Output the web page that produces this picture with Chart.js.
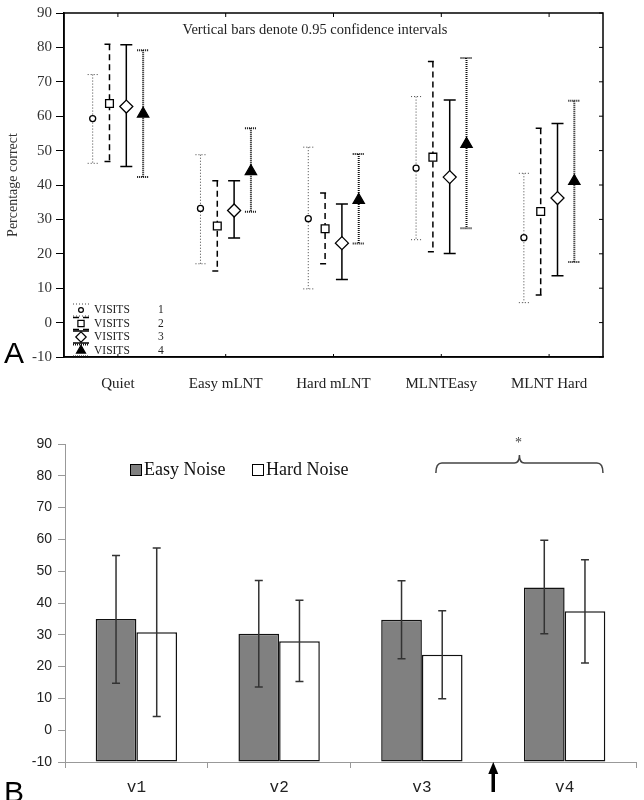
<!DOCTYPE html>
<html>
<head>
<meta charset="utf-8">
<script src="https://cdn.jsdelivr.net/npm/chart.js@4"></script>
<style>
body { margin: 0; background: #fff; }
#wrap { position: relative; width: 644px; height: 800px; overflow: hidden; }
canvas { position: absolute; left: 0; }
.panel { position: absolute; font-family: "Liberation Sans", Arial, sans-serif; font-size: 30px; line-height: 30px; color: #000; }
</style>
</head>
<body>
<div id="wrap">
  <canvas id="chartA" width="644" height="400" style="top:0"></canvas>
  <canvas id="chartB" width="644" height="400" style="top:400px"></canvas>
  <div class="panel" style="left:4px;top:338px">A</div>
  <div class="panel" style="left:4px;top:777px">B</div>
</div>
<script>
// ---- panel A: percentage correct by condition, 4 visits (mean + 95% CI)
const conditions = ["Quiet", "Easy mLNT", "Hard mLNT", "MLNTEasy", "MLNT Hard"];
const visitNames = ["1", "2", "3", "4"];

const visit1Mean = [59.3, 33.2, 30.2, 44.9, 24.7];
const visit1Low  = [46.3, 17.1,  9.8, 24.1,  5.8];
const visit1High = [72.1, 48.8, 51.0, 65.7, 43.4];

const visit2Mean = [63.7, 28.1, 27.3, 48.1, 32.3];
const visit2Low  = [46.8, 15.0, 17.1, 20.6,  8.0];
const visit2High = [80.9, 41.2, 37.7, 75.9, 56.5];

const visit3Mean = [62.8, 32.6, 23.1, 42.3, 36.2];
const visit3Low  = [45.4, 24.6, 12.5, 20.1, 13.6];
const visit3High = [80.8, 41.2, 34.5, 64.7, 57.9];

const visit4Mean = [60.7, 44.0, 35.6, 51.9, 41.1];
const visit4Low  = [42.3, 32.2, 23.0, 27.4, 17.6];
const visit4High = [79.2, 56.5, 49.0, 76.9, 64.5];

// ---- panel B: easy / hard noise by visit (mean + error)
const visits = ["v1", "v2", "v3", "v4"];
const easyNoise     = [35.0, 30.3, 34.7, 44.9];
const easyNoiseLow  = [14.8, 13.6, 22.5, 30.3];
const easyNoiseHigh = [54.9, 47.1, 47.0, 59.7];
const hardNoise     = [30.8, 28.0, 23.7, 37.4];
const hardNoiseLow  = [ 4.3, 15.3,  9.9, 21.1];
const hardNoiseHigh = [57.3, 40.9, 37.6, 53.6];

// styles for the 4 visit series
const visitStyles = [
  { pointStyle: 'circle',   radius: 3,   fill: '#fff', color: '#444', width: 1,   dash: [1, 2], cap: 5 },
  { pointStyle: 'rect',     radius: 5.5, fill: '#fff', color: '#000', width: 1.5, dash: [6, 4], cap: 5 },
  { pointStyle: 'rectRot',  radius: 6.5, fill: '#fff', color: '#000', width: 1.5, dash: [],     cap: 6 },
  { pointStyle: 'triangle', radius: 6.5, fill: '#000', color: '#111', width: 2,   dash: [1, 1], cap: 6 }
];
const visitSpread = 0.156;

const seriesA = [
  [visit1Mean, visit1Low, visit1High],
  [visit2Mean, visit2Low, visit2High],
  [visit3Mean, visit3Low, visit3High],
  [visit4Mean, visit4Low, visit4High]
];

const datasetsA = seriesA.map(function (s, v) {
  const st = visitStyles[v];
  return {
    label: 'VISITS ' + visitNames[v],
    data: s[0].map(function (m, i) {
      return { x: i + (v - 1.5) * visitSpread, y: m, lo: s[1][i], hi: s[2][i] };
    }),
    pointStyle: st.pointStyle,
    pointRadius: st.radius,
    pointBackgroundColor: st.fill,
    pointBorderColor: '#000',
    pointBorderWidth: 1.3
  };
});

function drawPointShape(ctx, style, radius, x, y, fill) {
  ctx.save();
  ctx.fillStyle = fill;
  ctx.strokeStyle = '#000';
  ctx.lineWidth = 1.2;
  ctx.setLineDash([]);
  Chart.helpers.drawPoint(ctx, { pointStyle: style, radius: radius, rotation: 0, borderWidth: 1.2 }, x, y);
  ctx.restore();
}

const panelAExtras = {
  id: 'panelAExtras',
  beforeDatasetsDraw(chart) {
    const { ctx, scales: { x, y } } = chart;
    chart.data.datasets.forEach(function (ds, i) {
      const st = visitStyles[i];
      ctx.save();
      ctx.strokeStyle = st.color;
      ctx.lineWidth = st.width;
      ctx.setLineDash(st.dash);
      ds.data.forEach(function (p) {
        const px = x.getPixelForValue(p.x);
        const top = y.getPixelForValue(p.hi);
        const bot = y.getPixelForValue(p.lo);
        ctx.beginPath();
        ctx.moveTo(px, top); ctx.lineTo(px, bot);
        ctx.moveTo(px - st.cap, top); ctx.lineTo(px + st.cap, top);
        ctx.moveTo(px - st.cap, bot); ctx.lineTo(px + st.cap, bot);
        ctx.stroke();
      });
      ctx.restore();
    });
  },
  afterDraw(chart) {
    const { ctx, chartArea: a, scales: { x, y } } = chart;
    ctx.save();
    // box frame
    ctx.strokeStyle = '#000';
    ctx.lineWidth = 1.5;
    ctx.strokeRect(a.left, a.top, a.right - a.left, a.bottom - a.top);
    // inner ticks
    ctx.lineWidth = 1;
    ctx.beginPath();
    for (let v = -10; v <= 90; v += 10) {
      const py = y.getPixelForValue(v);
      ctx.moveTo(a.right, py); ctx.lineTo(a.right - 4, py);
    }
    conditions.forEach(function (c, i) {
      const px = x.getPixelForValue(i);
      ctx.moveTo(px, a.top); ctx.lineTo(px, a.top + 4);
      ctx.moveTo(px, a.bottom); ctx.lineTo(px, a.bottom - 3);
    });
    ctx.stroke();

    // title note
    ctx.fillStyle = '#222';
    ctx.font = '14.5px "Liberation Serif", "Times New Roman", serif';
    ctx.textAlign = 'center';
    ctx.textBaseline = 'middle';
    ctx.fillText('Vertical bars denote 0.95 confidence intervals', 315, 30);

    // legend, lower left inside the frame
    const rows = [310, 323.5, 337, 350.5];
    ctx.font = '11.5px "Liberation Serif", "Times New Roman", serif';
    ctx.textAlign = 'left';
    visitStyles.forEach(function (st, i) {
      const cy = rows[i];
      const cx = a.left + 17;
      ctx.save();
      ctx.strokeStyle = st.color;
      ctx.lineWidth = st.width;
      ctx.setLineDash(st.dash);
      ctx.beginPath();
      ctx.moveTo(cx - 8, cy - 6); ctx.lineTo(cx + 8, cy - 6);
      ctx.moveTo(cx - 8, cy + 6); ctx.lineTo(cx + 8, cy + 6);
      ctx.stroke();
      ctx.restore();
      drawPointShape(ctx, st.pointStyle, st.radius * 0.8, cx, cy, st.fill);
      ctx.fillStyle = '#222';
      ctx.fillText('VISITS', a.left + 30, cy);
      ctx.fillText(visitNames[i], a.left + 94, cy);
    });
    ctx.restore();
  }
};

new Chart(document.getElementById('chartA'), {
  type: 'scatter',
  data: { datasets: datasetsA },
  options: {
    responsive: false,
    animation: false,
    layout: { padding: { top: 12, right: 41 } },
    plugins: { legend: { display: false }, tooltip: { enabled: false } },
    scales: {
      x: {
        type: 'linear',
        min: -0.5,
        max: 4.5,
        afterBuildTicks(scale) { scale.ticks = conditions.map(function (c, i) { return { value: i }; }); },
        afterFit(scale) { scale.height = 43; },
        grid: { display: false },
        border: { color: '#000', width: 1.5 },
        ticks: {
          autoSkip: false, maxRotation: 0, padding: 10, color: '#222',
          font: { family: '"Liberation Serif", "Times New Roman", serif', size: 15 },
          callback: function (v) { return conditions[v]; }
        }
      },
      y: {
        min: -10,
        max: 90,
        afterFit(scale) { scale.width = 64; },
        grid: { drawOnChartArea: false, tickLength: 8, color: '#000' },
        border: { color: '#000', width: 1.5 },
        ticks: {
          stepSize: 10, padding: 4, color: '#333',
          font: { family: '"Liberation Serif", "Times New Roman", serif', size: 15 }
        },
        title: {
          display: true, text: 'Percentage correct', color: '#333', padding: { top: 5, bottom: 0 },
          font: { family: '"Liberation Serif", "Times New Roman", serif', size: 14 }
        }
      }
    }
  },
  plugins: [panelAExtras]
});

// ---- panel B
const errorsB = [[easyNoiseLow, easyNoiseHigh], [hardNoiseLow, hardNoiseHigh]];

const panelBExtras = {
  id: 'panelBExtras',
  afterDatasetsDraw(chart) {
    const { ctx, scales: { y } } = chart;
    ctx.save();
    ctx.strokeStyle = '#333';
    ctx.lineWidth = 1.5;
    errorsB.forEach(function (e, d) {
      chart.getDatasetMeta(d).data.forEach(function (bar, i) {
        const top = y.getPixelForValue(e[1][i]);
        const bot = y.getPixelForValue(e[0][i]);
        ctx.beginPath();
        ctx.moveTo(bar.x, top); ctx.lineTo(bar.x, bot);
        ctx.moveTo(bar.x - 4, top); ctx.lineTo(bar.x + 4, top);
        ctx.moveTo(bar.x - 4, bot); ctx.lineTo(bar.x + 4, bot);
        ctx.stroke();
      });
    });
    ctx.restore();
  },
  afterDraw(chart) {
    const { ctx, chartArea: a, scales: { x } } = chart;
    ctx.save();
    // legend
    ctx.font = '18px "Liberation Serif", "Times New Roman", serif';
    ctx.textBaseline = 'middle';
    ctx.textAlign = 'left';
    ctx.lineWidth = 1;
    ctx.strokeStyle = '#000';
    ctx.fillStyle = '#808080';
    ctx.fillRect(130.5, 64.5, 11, 11); ctx.strokeRect(130.5, 64.5, 11, 11);
    ctx.fillStyle = '#fff';
    ctx.fillRect(252.5, 64.5, 11, 11); ctx.strokeRect(252.5, 64.5, 11, 11);
    ctx.fillStyle = '#111';
    ctx.fillText('Easy Noise', 144, 70);
    ctx.fillText('Hard Noise', 266, 70);

    // significance brace over v3-v4
    const bl = x.getPixelForValue(2) + 14;
    const br = chart.getDatasetMeta(1).data[3].x + 18;
    const bm = (bl + br) / 2;
    const by = 63;
    ctx.strokeStyle = '#444';
    ctx.lineWidth = 1.5;
    ctx.beginPath();
    ctx.moveTo(bl, by + 10);
    ctx.quadraticCurveTo(bl, by, bl + 6, by);
    ctx.lineTo(bm - 5, by);
    ctx.quadraticCurveTo(bm, by, bm, by - 8);
    ctx.quadraticCurveTo(bm, by, bm + 5, by);
    ctx.lineTo(br - 6, by);
    ctx.quadraticCurveTo(br, by, br, by + 10);
    ctx.stroke();
    ctx.fillStyle = '#444';
    ctx.font = '14px "Liberation Serif", serif';
    ctx.textAlign = 'center';
    ctx.fillText('*', bm - 1, 43);

    // arrow between v3 and v4
    const ax = (x.getPixelForValue(2) + x.getPixelForValue(3)) / 2;
    ctx.fillStyle = '#000';
    ctx.fillRect(ax - 1.75, a.bottom + 10, 3.5, 20);
    ctx.beginPath();
    ctx.moveTo(ax, a.bottom);
    ctx.lineTo(ax + 5, a.bottom + 12);
    ctx.lineTo(ax - 5, a.bottom + 12);
    ctx.closePath();
    ctx.fill();
    ctx.restore();
  }
};

new Chart(document.getElementById('chartB'), {
  type: 'bar',
  data: {
    labels: visits,
    datasets: [
      { label: 'Easy Noise', data: easyNoise, base: -10, backgroundColor: '#808080', borderColor: '#111', borderWidth: 1.5, borderSkipped: false },
      { label: 'Hard Noise', data: hardNoise, base: -10, backgroundColor: '#fff', borderColor: '#111', borderWidth: 1.5, borderSkipped: false }
    ]
  },
  options: {
    responsive: false,
    animation: false,
    layout: { padding: { top: 44, right: 8 } },
    plugins: { legend: { display: false }, tooltip: { enabled: false } },
    datasets: { bar: { categoryPercentage: 0.57, barPercentage: 1 } },
    scales: {
      x: {
        afterFit(scale) { scale.height = 38; },
        grid: { offset: true, drawOnChartArea: false, tickLength: 6, color: '#999' },
        border: { color: '#999', width: 1 },
        ticks: { padding: 10, color: '#222', font: { family: '"Liberation Mono", "Courier New", monospace', size: 16 } }
      },
      y: {
        min: -10,
        max: 90,
        afterFit(scale) { scale.width = 65; },
        grid: { drawOnChartArea: false, tickLength: 7, color: '#999' },
        border: { color: '#999', width: 1 },
        ticks: { stepSize: 10, padding: 6, color: '#222', font: { family: '"Liberation Sans", Arial, sans-serif', size: 14 } }
      }
    }
  },
  plugins: [panelBExtras]
});
</script>
</body>
</html>
